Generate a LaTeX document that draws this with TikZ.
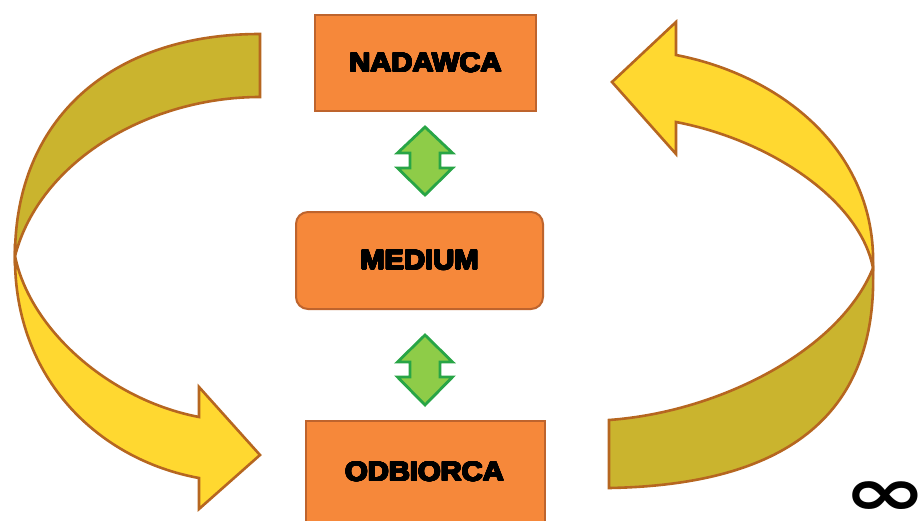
\documentclass[tikz,border=0pt]{standalone}
\usepackage{fontspec}
\usepackage{contour}
\contourlength{0.75pt}
\contournumber{24}
\setmainfont{Liberation Sans}
\newfontfamily\heavy[UprightFont=* Bold, FakeStretch=1.08]{Liberation Sans}
\newfontfamily\symb[UprightFont=* Bold]{DejaVu Sans}
\definecolor{boxfill}{RGB}{246,136,58}
\definecolor{boxline}{RGB}{190,100,45}
\definecolor{grfill}{RGB}{142,204,72}
\definecolor{grline}{RGB}{40,165,70}
\definecolor{yel}{RGB}{255,216,48}
\definecolor{oli}{RGB}{202,180,46}
\definecolor{ribline}{RGB}{182,102,32}
\newcommand\heavytext[1]{\contour{black}{#1}}
\tikzset{
  boxtext/.style={font=\heavy\fontsize{27}{30}\selectfont},
  box/.style={draw=boxline, fill=boxfill, line width=2pt, inner sep=0pt, boxtext},
  greenarr/.style={draw=grline, fill=grfill, line width=2.8pt, line join=miter},
  ribfront/.style={draw=ribline, fill=yel, line width=2.6pt, line join=miter},
  ribback/.style={draw=ribline, fill=oli, line width=2.6pt, line join=miter},
}
\newcommand\dblarrow[2]{\draw[greenarr, shift={#1}]
  (0,-#2) -- (27.5,-8) -- (15,-8) -- (15,7) -- (27.5,7) -- (0,#2)
  -- (-27.5,7) -- (-15,7) -- (-15,-8) -- (-27.5,-8) -- cycle;}
\begin{document}
\begin{tikzpicture}[x=1pt,y=-1pt]
\clip (0,0) rectangle (923,520);
\fill[white] (0,0) rectangle (923,520);
% boxes
\node[box, minimum width=221pt, minimum height=96pt] (nad) at (425.5,63) {\heavytext{NADAWCA}};
\node[box, rounded corners=12pt, minimum width=247pt, minimum height=97pt] (med) at (419.5,260.5) {\heavytext{MEDIUM}};
\node[box, minimum width=239pt, minimum height=110pt] (odb) at (425.5,476) {};
\node[boxtext, inner sep=0pt] (odbt) at (424.5,472) {\heavytext{ODBIORCA}};
% green double arrows
\dblarrow{(425,161)}{34}
\dblarrow{(425,370)}{35}
% left ribbon arrow: back (upper) part
\draw[ribback] (260,34) .. controls (110,34) and (15,120) .. (15,256)
  .. controls (40,160) and (150,97) .. (260,97) -- cycle;
% left ribbon arrow: front (lower) part with head
\draw[ribfront] (15,256) .. controls (14,380) and (100,460) .. (199,478)
  -- (199,509) -- (260,455) -- (199,387) -- (199,417)
  .. controls (110,400) and (30,330) .. (15,256) -- cycle;
% right ribbon arrow: back (lower) part
\draw[ribback] (609,420) .. controls (720,412) and (840,350) .. (873,268)
  .. controls (878,420) and (780,485) .. (609,488) -- cycle;
% right ribbon arrow: front (upper) part with head
\draw[ribfront] (873,268) .. controls (877,150) and (780,75) .. (676,55)
  -- (676,22) -- (612,82) -- (676,154) -- (676,122)
  .. controls (770,140) and (860,200) .. (873,268) -- cycle;
% infinity
\node[font=\symb\fontsize{67}{67}\selectfont, inner sep=0pt, xscale=1.5] (inf) at (885,499) {∞};
\end{tikzpicture}
\end{document}
